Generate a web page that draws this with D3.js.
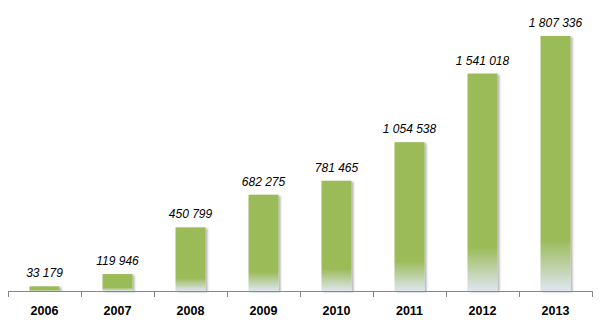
<!DOCTYPE html>
<html>
<head>
<meta charset="utf-8">
<script src="https://cdnjs.cloudflare.com/ajax/libs/d3/7.8.5/d3.min.js"></script>
<style>
  html, body { margin: 0; padding: 0; background: #fff; }
  svg { display: block; }
</style>
</head>
<body>
<div id="chart"></div>
<script>
// Yearly totals
const years = ["2006", "2007", "2008", "2009", "2010", "2011", "2012", "2013"];
const values = [33179, 119946, 450799, 682275, 781465, 1054538, 1541018, 1807336];
const valueLabels = ["33 179", "119 946", "450 799", "682 275", "781 465", "1 054 538", "1 541 018", "1 807 336"];

const W = 600, H = 330;
const axisY = 291;

const svg = d3.select("#chart").append("svg")
  .attr("width", W).attr("height", H);

const defs = svg.append("defs");

// Bar fill: solid green that fades to a pale blue-white near the base
const grad = defs.append("linearGradient")
  .attr("id", "barFill")
  .attr("x1", 0).attr("y1", 0).attr("x2", 0).attr("y2", 1);
grad.append("stop").attr("offset", "0%").attr("stop-color", "#9bbb59");
grad.append("stop").attr("offset", "80%").attr("stop-color", "#9bbb59");
grad.append("stop").attr("offset", "100%").attr("stop-color", "#dfe6f0");

// Soft shadow to the lower right of each bar
const shadow = defs.append("filter")
  .attr("id", "barShadow")
  .attr("x", "-20%").attr("y", "-20%").attr("width", "150%").attr("height", "140%");
shadow.append("feGaussianBlur").attr("in", "SourceAlpha").attr("stdDeviation", 1.2).attr("result", "blur");
shadow.append("feOffset").attr("in", "blur").attr("dx", 1.5).attr("dy", 1).attr("result", "off");
shadow.append("feComponentTransfer").attr("in", "off").attr("result", "soft")
  .append("feFuncA").attr("type", "linear").attr("slope", 0.3);
const merge = shadow.append("feMerge");
merge.append("feMergeNode").attr("in", "soft");
merge.append("feMergeNode").attr("in", "SourceGraphic");

const x = d3.scaleBand()
  .domain(years)
  .range([8, 592])
  .paddingInner(0)
  .paddingOuter(0);

const y = d3.scaleLinear()
  .domain([0, 2000000])
  .range([axisY, axisY - 282.2]);

const barW = 30;

const data = years.map((yr, i) => ({ year: yr, value: values[i], label: valueLabels[i] }));

// Bars
svg.append("g").selectAll("rect")
  .data(data)
  .join("rect")
  .attr("x", d => x(d.year) + x.bandwidth() / 2 - barW / 2)
  .attr("y", d => y(d.value))
  .attr("width", barW)
  .attr("height", d => y(0) - y(d.value))
  .attr("fill", "url(#barFill)")
  .attr("filter", "url(#barShadow)");

// Value labels
svg.append("g").selectAll("text")
  .data(data)
  .join("text")
  .attr("x", d => x(d.year) + x.bandwidth() / 2)
  .attr("y", d => y(d.value) - 9)
  .attr("text-anchor", "middle")
  .attr("font-family", "'Liberation Sans', Arial, sans-serif")
  .attr("font-style", "italic")
  .attr("font-size", "12px")
  .attr("fill", "#000")
  .text(d => d.label);

// Category axis with tick marks on band boundaries
const axisG = svg.append("g");
axisG.append("line")
  .attr("x1", 8).attr("x2", 592)
  .attr("y1", axisY + 0.5).attr("y2", axisY + 0.5)
  .attr("stroke", "#868686").attr("stroke-width", 1);

const boundaries = years.map(yr => x(yr)).concat([x.range()[1]]);
axisG.selectAll("line.tick")
  .data(boundaries)
  .join("line")
  .attr("class", "tick")
  .attr("x1", d => Math.round(d) + 0.5).attr("x2", d => Math.round(d) + 0.5)
  .attr("y1", axisY).attr("y2", axisY + 6)
  .attr("stroke", "#868686").attr("stroke-width", 1);

axisG.selectAll("text")
  .data(years)
  .join("text")
  .attr("x", d => x(d) + x.bandwidth() / 2)
  .attr("y", 315)
  .attr("text-anchor", "middle")
  .attr("font-family", "'Liberation Sans', Arial, sans-serif")
  .attr("font-weight", "bold")
  .attr("font-size", "12.5px")
  .attr("fill", "#000")
  .text(d => d);
</script>
</body>
</html>
